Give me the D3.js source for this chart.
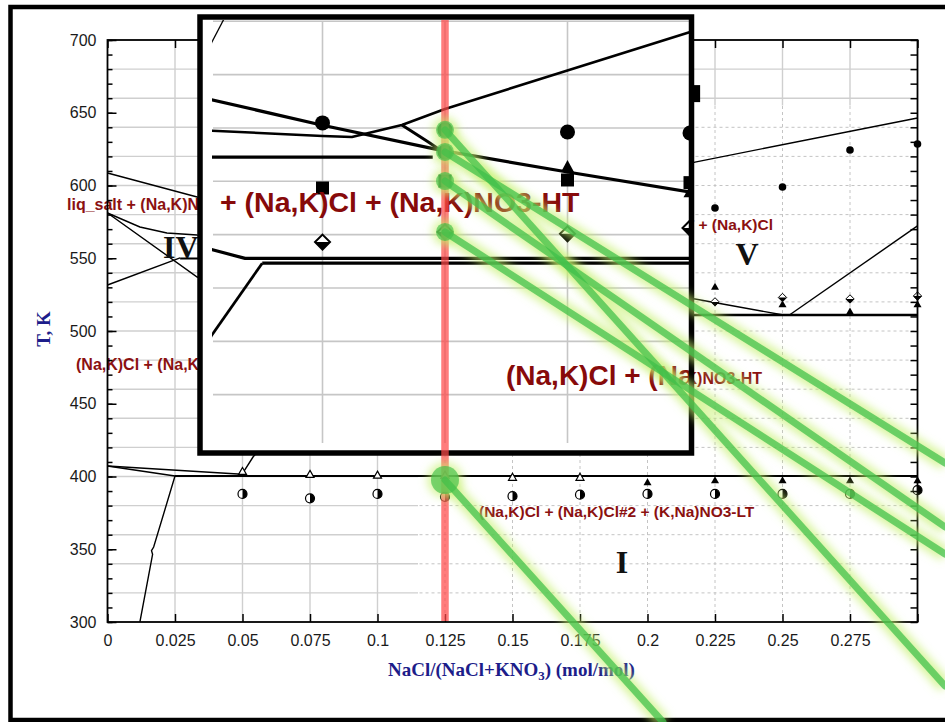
<!DOCTYPE html>
<html>
<head>
<meta charset="utf-8">
<script src="https://cdn.jsdelivr.net/npm/d3@7"></script>
<style>
  html, body { margin: 0; padding: 0; background: #fff; }
  svg { display: block; }
</style>
</head>
<body>
<svg id="chart" width="945" height="722"></svg>
<script>
// ---------------- axis values ----------------
const xTickValues = [0, 0.025, 0.05, 0.075, 0.1, 0.125, 0.15, 0.175, 0.2, 0.225, 0.25, 0.275, 0.3];
const xTickLabels = ["0", "0.025", "0.05", "0.075", "0.1", "0.125", "0.15", "0.175", "0.2", "0.225", "0.25", "0.275", ""];
const yTickValues = [300, 350, 400, 450, 500, 550, 600, 650, 700];
const yMinorValues = d3.range(300, 701, 10);
const yGridValues = [320, 340, 360, 380, 400, 420, 440, 460, 480, 500, 520, 540, 560, 580, 600, 620, 640, 660, 680];
const xGridValues = [0.025, 0.05, 0.075, 0.1, 0.125, 0.15, 0.175, 0.2, 0.225, 0.25, 0.275];

// ---------------- main diagram: phase boundaries [x, T] ----------------
const liquidusLeft   = [[0, 608.6], [0.0332, 592.1], [0.06, 583]];
const boundaryB      = [[0, 581.1], [0.012, 571.5], [0.022, 567.4], [0.0332, 566], [0.05, 565.5]];
const boundaryC      = [[0, 581.1], [0.0332, 537.1], [0.05, 528]];
const boundaryD      = [[0, 531.6], [0.0269, 550.2]];
const eutecticIV     = [[0.0269, 549.9], [0.06, 549.9]];
const boundaryF1     = [[0, 407.2], [0.025, 400.3]];
const boundaryF2     = [[0, 407.2], [0.0498, 401.5]];
const solvusLeft     = [[0.012, 300], [0.0167, 346.5], [0.0163, 349], [0.0171, 351.5], [0.025, 400.3]];
const boundaryK      = [[0.0498, 401.5], [0.0539, 413.4], [0.07, 450]];
const line400        = [[0.025, 400.3], [0.3, 400.3]];
const liquidusRight  = [[0.18, 598], [0.2176, 616.1], [0.3, 646.4]];
const boundaryI      = [[0.19, 526], [0.2176, 522], [0.2498, 511.2]];
const boundaryI2     = [[0.2527, 511.2], [0.3, 572.2]];
const line511        = [[0.19, 511], [0.3, 511]];

// ---------------- main diagram: measured points [x, T] ----------------
const liqCircles     = [[0.225, 584.5], [0.25, 599], [0.275, 624.4], [0.3, 628.5]];
const upperTriangles = [[0.225, 530], [0.25, 518], [0.275, 513], [0.3, 518]];
const upperDiamonds  = [[0.225, 520], [0.25, 523], [0.275, 522], [0.3, 524]];
const lowTriOpen     = [[0.05, 403], [0.075, 401], [0.1, 400.5], [0.125, 400.5], [0.15, 399], [0.175, 399]];
const lowTriFilled   = [[0.2, 395.6], [0.225, 397], [0.25, 397], [0.275, 397], [0.3, 397]];
const lowHalfCircles = [[0.05, 388], [0.075, 385], [0.1, 388], [0.125, 386], [0.15, 386.5], [0.175, 387.5],
                        [0.2, 388], [0.225, 388], [0.25, 388], [0.275, 388], [0.3, 390.6]];
const edgeSquares    = [[0.2169, 663.5]];

// ---------------- magnified view: curves [x, T] ----------------
const zTopThin   = [[0.0765, 629], [0.0805, 643]];
const zLiquidus  = [[0.075, 611.6], [0.1, 601], [0.124, 591.7], [0.15, 583.5], [0.175, 576]];
const zRising    = [[0.075, 599.2], [0.1, 597], [0.106, 596.6], [0.1162, 601.1], [0.125, 607.1], [0.175, 636]];
const zBranch    = [[0.1162, 601.1], [0.1216, 594.7], [0.124, 591.7]];
const zFlat589   = [[0.075, 589.1], [0.1225, 589.1]];
const zUpperEut  = [[0.075, 555.6], [0.0842, 551.1], [0.175, 551.1]];
const zLowerEut  = [[0.0877, 549.3], [0.175, 549.3]];
const zLowDiag   = [[0.075, 516], [0.0877, 549.3]];

// ---------------- magnified view: points [x, T] ----------------
const zCircles   = [[0.1, 601.9], [0.125, 599.3], [0.125, 591], [0.15, 598.5], [0.175, 598.1]];
const zTriangles = [[0.15, 585], [0.175, 575.5]];
const zSquares   = [[0.1, 577.5], [0.125, 580.1], [0.15, 580.5], [0.175, 579.5]];
const zDiamonds  = [[0.1, 557.2], [0.125, 561], [0.15, 560.3], [0.175, 562.5]];
const zGridX     = [0.1, 0.125, 0.15];
const zGridY     = [500, 520, 540, 560, 580, 600, 620, 640];

// ---------------- highlight: selected composition and links ----------------
const selectedX    = 0.125;
const linkFrom     = [[0.125, 599.3], [0.125, 591], [0.125, 580.1], [0.125, 561]];     // magnified view
const linkTo       = [[0.3102, 256], [0.3102, 409.3], [0.3102, 365.3], [0.3102, 346.7]]; // main diagram
const lowLinkFrom  = [0.125, 397.6];
const lowLinkTo    = [0.2057, 231.3];

// ---------------- setup ----------------
const W = 945, H = 722;
const svg = d3.select("#chart");
const defs = svg.append("defs");

defs.append("filter").attr("id", "glow").attr("filterUnits", "userSpaceOnUse")
  .attr("x", -50).attr("y", -50).attr("width", W + 100).attr("height", H + 100)
  .append("feGaussianBlur").attr("stdDeviation", 4);

const plot = { l: 107.5, r: 917.5, t: 40, b: 622 };
const x = d3.scaleLinear().domain([0, 0.3]).range([plot.l, plot.r]);
const y = d3.scaleLinear().domain([300, 700]).range([plot.b, plot.t]);

const mainLine = d3.line().x(d => x(d[0])).y(d => y(d[1]));

const inset = { l: 200, r: 691.5, t: 17, b: 453 };

svg.append("rect").attr("width", W).attr("height", H).attr("fill", "#fff");

// outer frame
svg.append("rect").attr("x", 10.5).attr("y", 7).attr("width", 945).attr("height", 713)
  .attr("fill", "none").attr("stroke", "#000").attr("stroke-width", 4.5);

// clip regions for the grid (dashed part on the right, solid elsewhere)
const dash = { x0: x(0.115), y0: y(655) };
defs.append("clipPath").attr("id", "plotClip").append("rect")
  .attr("x", plot.l).attr("y", plot.t).attr("width", plot.r - plot.l).attr("height", plot.b - plot.t);
defs.append("clipPath").attr("id", "dashClip").append("rect")
  .attr("x", dash.x0).attr("y", dash.y0).attr("width", plot.r - dash.x0).attr("height", plot.b - dash.y0);
defs.append("clipPath").attr("id", "solidClip").append("path")
  .attr("clip-rule", "evenodd")
  .attr("d", `M${plot.l},${plot.t}H${plot.r}V${plot.b}H${plot.l}Z M${dash.x0},${dash.y0}H${plot.r}V${plot.b}H${dash.x0}Z`);
// everything outside the magnified panel
defs.append("clipPath").attr("id", "outsideInset").append("path")
  .attr("clip-rule", "evenodd")
  .attr("d", `M0,0H${W}V${H}H0Z M${inset.l},${inset.t}H${inset.r + 2}V${inset.b}H${inset.l}Z`);

function gridLines(g, stroke, width, dasharray) {
  g.selectAll("line.a").data(xGridValues).join("line").attr("class", "a")
    .attr("x1", d => x(d)).attr("x2", d => x(d)).attr("y1", plot.t).attr("y2", plot.b);
  g.selectAll("line.b").data(yGridValues).join("line").attr("class", "b")
    .attr("y1", d => y(d)).attr("y2", d => y(d)).attr("x1", plot.l).attr("x2", plot.r);
  g.selectAll("line").attr("stroke", stroke).attr("stroke-width", width).attr("stroke-dasharray", dasharray);
}
svg.append("g").attr("clip-path", "url(#solidClip)").call(gridLines, "#cfcfcf", 1.4, null);
svg.append("g").attr("clip-path", "url(#dashClip)").call(gridLines, "#c4c4c4", 1, "3,3");

// phase boundaries
const gLines = svg.append("g").attr("clip-path", "url(#plotClip)").attr("fill", "none").attr("stroke", "#000");
[
  [liquidusLeft, 1.4], [boundaryB, 1.4], [boundaryC, 1.4], [boundaryD, 1.4], [eutecticIV, 2],
  [boundaryF1, 1.4], [boundaryF2, 1.4], [solvusLeft, 1.4], [boundaryK, 1.4],
  [line400, 2], [liquidusRight, 1.4], [boundaryI, 1.4], [boundaryI2, 1.4], [line511, 2.6]
].forEach(([pts, w]) => gLines.append("path").attr("d", mainLine(pts)).attr("stroke-width", w));

// marker helpers
function triPath(cx, cy, w, h) {
  return `M${cx},${cy - h * 2 / 3}L${cx + w / 2},${cy + h / 3}L${cx - w / 2},${cy + h / 3}Z`;
}
function halfCircle(g, cx, cy, r) {
  g.append("circle").attr("cx", cx).attr("cy", cy).attr("r", r)
    .attr("fill", "#fff").attr("stroke", "#000").attr("stroke-width", 1.2);
  g.append("path").attr("d", `M${cx},${cy - r}A${r},${r} 0 0 1 ${cx},${cy + r}Z`).attr("fill", "#000");
}
function halfDiamond(g, cx, cy, s, sw) {
  g.append("path").attr("d", `M${cx},${cy - s}L${cx + s},${cy}L${cx},${cy + s}L${cx - s},${cy}Z`)
    .attr("fill", "#fff").attr("stroke", "#000").attr("stroke-width", sw);
  g.append("path").attr("d", `M${cx - s},${cy}L${cx + s},${cy}L${cx},${cy + s}Z`).attr("fill", "#000");
}

const gPts = svg.append("g");
liqCircles.forEach(d => gPts.append("circle").attr("cx", x(d[0])).attr("cy", y(d[1])).attr("r", 3.8).attr("fill", "#000"));
upperTriangles.forEach(d => gPts.append("path").attr("d", triPath(x(d[0]), y(d[1]), 8, 7)).attr("fill", "#000"));
upperDiamonds.forEach(d => halfDiamond(gPts, x(d[0]), y(d[1]), 4.2, 1));
lowTriOpen.forEach(d => gPts.append("path").attr("d", triPath(x(d[0]), y(d[1]), 8, 7))
  .attr("fill", "#fff").attr("stroke", "#000").attr("stroke-width", 1.2));
lowTriFilled.forEach(d => gPts.append("path").attr("d", triPath(x(d[0]), y(d[1]), 8, 7)).attr("fill", "#000"));
lowHalfCircles.forEach(d => halfCircle(gPts, x(d[0]), y(d[1]), 4.5));
edgeSquares.forEach(d => gPts.append("rect").attr("x", x(d[0]) - 7).attr("y", y(d[1]) - 8)
  .attr("width", 14).attr("height", 17).attr("fill", "#000"));

// region labels (the magnified panel sits over part of them)
const labelRed = "#8b1111";
const sans = "'Liberation Sans', Arial, sans-serif";
const serif = "'Liberation Serif', 'Times New Roman', serif";
const gLabels = svg.append("g").attr("clip-path", "url(#outsideInset)");
function label(txt, px, py, size, anchor, color, family) {
  gLabels.append("text").attr("x", px).attr("y", py).attr("font-size", size)
    .attr("font-family", family || sans).attr("font-weight", "bold")
    .attr("fill", color || labelRed).attr("text-anchor", anchor || "start").text(txt);
}
label("liq_salt + (Na,K)NO3-HT", 67, 210, 16);
label("(Na,K)Cl + (Na,K)NO3-HT", 76, 370, 16);
label("liq_salt + (Na,K)NO3-HT + (Na,K)Cl", 773, 230, 15.5, "end");
label("(Na,K)Cl + (Na,K)NO3-HT", 762, 384, 16, "end");
label("(Na,K)Cl + (Na,K)Cl#2 + (K,Na)NO3-LT", 479, 517, 15.5);
label("IV", 163, 258, 32, "start", "#111", serif);
label("V", 747, 265, 32, "middle", "#111", serif);
label("I", 622, 573, 32, "middle", "#111", serif);

// axes
const tickFont = g => g.selectAll("text").attr("font-family", sans).attr("font-size", 16).attr("fill", "#1a1a1a");
const tickLines = g => { g.select(".domain").remove(); g.selectAll("line").attr("stroke", "#000").attr("stroke-width", 1.5); };

svg.append("g").attr("transform", `translate(0,${plot.b})`)
  .call(d3.axisBottom(x).tickValues(xTickValues).tickSize(-8).tickPadding(13).tickFormat((d, i) => xTickLabels[i]))
  .call(tickLines).call(tickFont);
svg.append("g").attr("transform", `translate(0,${plot.t})`)
  .call(d3.axisTop(x).tickValues(xTickValues).tickSize(-8).tickFormat(""))
  .call(tickLines);
svg.append("g").attr("transform", `translate(${plot.l},0)`)
  .call(d3.axisLeft(y).tickValues(yMinorValues).tickSize(-5).tickFormat(""))
  .call(tickLines);
svg.append("g").attr("transform", `translate(${plot.l},0)`)
  .call(d3.axisLeft(y).tickValues(yTickValues).tickSize(-9).tickPadding(11))
  .call(tickLines).call(tickFont);
svg.append("g").attr("transform", `translate(${plot.r},0)`)
  .call(d3.axisRight(y).tickValues(yMinorValues).tickSize(-7).tickFormat(""))
  .call(tickLines);
svg.append("rect").attr("x", plot.l).attr("y", plot.t).attr("width", plot.r - plot.l).attr("height", plot.b - plot.t)
  .attr("fill", "none").attr("stroke", "#000").attr("stroke-width", 1.8);

// axis titles
const axisBlue = "#1d1d8a";
svg.append("text").attr("transform", "translate(50,329) rotate(-90)")
  .attr("text-anchor", "middle").attr("font-family", serif).attr("font-weight", "bold")
  .attr("font-size", 19).attr("fill", axisBlue).text("T, K");
const xt = svg.append("text").attr("x", 388).attr("y", 676)
  .attr("font-family", serif).attr("font-weight", "bold").attr("font-size", 19).attr("fill", axisBlue);
xt.append("tspan").text("NaCl/(NaCl+KNO");
xt.append("tspan").attr("font-size", 13).attr("dy", 4).text("3");
xt.append("tspan").attr("dy", -4).text(") (mol/mol)");

// ---------------- magnified view ----------------
const ix = d3.scaleLinear().domain([0.075, 0.175]).range([200, 690]);
const iy = d3.scaleLinear().domain([480, 640]).range([448, 21.3]);
const insetLine = d3.line().x(d => ix(d[0])).y(d => iy(d[1]));

defs.append("clipPath").attr("id", "insetClip").append("rect")
  .attr("x", 212).attr("y", 20).attr("width", 477).attr("height", 424);
defs.append("clipPath").attr("id", "insetTextClip").append("rect")
  .attr("x", 203).attr("y", 20).attr("width", 486).attr("height", 430);

svg.append("rect").attr("x", inset.l).attr("y", inset.t)
  .attr("width", inset.r - inset.l).attr("height", inset.b - inset.t).attr("fill", "#fff");

const gz = svg.append("g").attr("clip-path", "url(#insetClip)");
gz.selectAll("line.zx").data(zGridX).join("line").attr("class", "zx")
  .attr("x1", d => ix(d)).attr("x2", d => ix(d)).attr("y1", 21).attr("y2", 443)
  .attr("stroke", "#c6c6c6").attr("stroke-width", 1.6);
gz.selectAll("line.zy").data(zGridY).join("line").attr("class", "zy")
  .attr("y1", d => iy(d)).attr("y2", d => iy(d)).attr("x1", 213).attr("x2", 690)
  .attr("stroke", "#c6c6c6").attr("stroke-width", 1.6);

[
  [zTopThin, 1.3], [zLiquidus, 3.2], [zRising, 2.6], [zBranch, 3], [zFlat589, 3.2],
  [zUpperEut, 3.2], [zLowerEut, 3.2], [zLowDiag, 2.8]
].forEach(([pts, w]) => gz.append("path").attr("d", insetLine(pts))
  .attr("fill", "none").attr("stroke", "#000").attr("stroke-width", w).attr("stroke-linejoin", "round"));

zCircles.forEach(d => gz.append("circle").attr("cx", ix(d[0])).attr("cy", iy(d[1])).attr("r", 7.5).attr("fill", "#000"));
zSquares.forEach(d => gz.append("rect").attr("x", ix(d[0]) - 6.5).attr("y", iy(d[1]) - 6.5)
  .attr("width", 13).attr("height", 13).attr("fill", "#000"));
zTriangles.forEach(d => gz.append("path").attr("d", triPath(ix(d[0]), iy(d[1]), 13, 12)).attr("fill", "#000"));
zDiamonds.forEach(d => halfDiamond(gz, ix(d[0]), iy(d[1]), 7.5, 2));

const gzt = svg.append("g").attr("clip-path", "url(#insetTextClip)");
gzt.append("text").attr("x", 220).attr("y", 212).attr("font-family", sans).attr("font-weight", "bold")
  .attr("font-size", 28.5).attr("fill", "#870a0a").text("+ (Na,K)Cl + (Na,K)NO3-HT");
gzt.append("text").attr("x", 506).attr("y", 385).attr("font-family", sans).attr("font-weight", "bold")
  .attr("font-size", 28).attr("fill", "#870a0a").text("(Na,K)Cl + (Na,K)NO3-HT");

svg.append("rect").attr("x", inset.l).attr("y", inset.t)
  .attr("width", inset.r - inset.l).attr("height", inset.b - inset.t)
  .attr("fill", "none").attr("stroke", "#000").attr("stroke-width", 5.5);

// ---------------- selected composition ----------------
svg.append("line").attr("x1", x(selectedX)).attr("x2", x(selectedX))
  .attr("y1", 20).attr("y2", plot.b - 1)
  .attr("stroke", "#ff4a4a").attr("stroke-opacity", 0.72).attr("stroke-width", 7.5);

// glowing links from the selected points
const gGlow = svg.append("g");
const links = linkFrom.map((d, i) => [[ix(d[0]), iy(d[1])], [x(linkTo[i][0]), y(linkTo[i][1])]]);
links.push([[x(lowLinkFrom[0]), y(lowLinkFrom[1])], [x(lowLinkTo[0]), y(lowLinkTo[1])]]);

links.forEach(([a, b]) => gGlow.append("line")
  .attr("x1", a[0]).attr("y1", a[1]).attr("x2", b[0]).attr("y2", b[1])
  .attr("stroke", "#c4f06a").attr("stroke-opacity", 0.65).attr("stroke-width", 15)
  .attr("filter", "url(#glow)"));
const nodes = linkFrom.map(d => [ix(d[0]), iy(d[1]), 9]);
nodes.push([x(lowLinkFrom[0]), y(lowLinkFrom[1]), 14]);
nodes.forEach(n => gGlow.append("circle").attr("cx", n[0]).attr("cy", n[1]).attr("r", n[2] + 4)
  .attr("fill", "#c4f06a").attr("fill-opacity", 0.6).attr("filter", "url(#glow)"));

links.forEach(([a, b]) => gGlow.append("line")
  .attr("x1", a[0]).attr("y1", a[1]).attr("x2", b[0]).attr("y2", b[1])
  .attr("stroke", "#3fbf4a").attr("stroke-opacity", 0.72).attr("stroke-width", 7)
  .attr("stroke-linecap", "round"));
nodes.forEach(n => gGlow.append("circle").attr("cx", n[0]).attr("cy", n[1]).attr("r", n[2])
  .attr("fill", "#45c04a").attr("fill-opacity", 0.68));
</script>
</body>
</html>
